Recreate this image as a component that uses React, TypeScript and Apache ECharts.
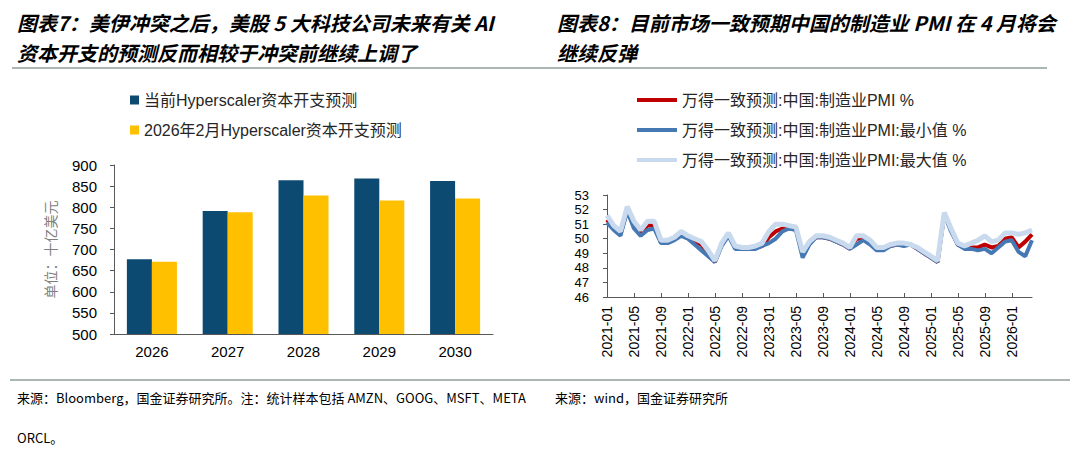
import React, { useEffect, useRef } from 'react';
import * as echarts from 'echarts';

// 图表7：Hyperscaler 资本开支预测（十亿美元）
const capexYears = ['2026', '2027', '2028', '2029', '2030'];
const capexCurrent = [677, 791, 864, 868, 862];
const capexFeb2026 = [671, 788, 828, 816, 821];

// 图表8：万得一致预测 中国制造业PMI，2021-01 至 2026-04
const pmiMonths: string[] = [];
for (let y = 2021; y <= 2026; y++) {
  for (let m = 1; m <= 12; m++) {
    if (y === 2026 && m > 4) break;
    pmiMonths.push(`${y}-${m < 10 ? '0' + m : m}`);
  }
}
const pmiMean = [
  51.3, 50.7, 50.3, 52.0, 50.9, 50.4, 50.9, 50.9, 49.8, 49.8, 50.0, 50.3,
  50.1, 49.8, 49.6, 48.9, 48.4, 49.6, 50.3, 49.4, 49.4, 49.4, 49.4, 49.5,
  50.1, 50.5, 50.7, 50.7, 50.7, 48.9, 49.7, 50.1, 50.1, 50.0, 49.8, 49.6,
  49.3, 50.0, 50.0, 49.7, 49.3, 49.3, 49.5, 49.6, 49.6, 49.6, 49.3, 49.0,
  48.7, 48.4, 51.7, 50.6, 49.6, 49.4, 49.4, 49.4, 49.6, 49.4, 49.5, 50.0,
  50.1, 49.4, 49.8, 50.3
];
const pmiMin = [
  51.1, 50.6, 50.2, 51.9, 50.7, 50.2, 50.6, 50.7, 49.7, 49.7, 49.9, 50.2,
  50.0, 49.6, 49.2, 48.8, 48.4, 49.5, 50.2, 49.3, 49.3, 49.3, 49.3, 49.5,
  49.7, 50.0, 50.5, 50.7, 50.6, 48.7, 49.6, 50.1, 50.1, 50.0, 49.8, 49.6,
  49.3, 49.6, 49.9, 49.6, 49.2, 49.2, 49.5, 49.6, 49.5, 49.6, 49.3, 49.0,
  48.7, 48.4, 51.7, 50.5, 49.6, 49.3, 49.3, 49.2, 49.3, 49.0, 49.4, 49.8,
  49.9, 49.1, 48.8, 49.9
];
const pmiMax = [
  51.6, 50.9, 50.5, 52.2, 51.2, 50.6, 51.2, 51.2, 49.9, 49.9, 50.1, 50.5,
  50.2, 50.0, 49.8, 49.2, 48.5, 49.7, 50.4, 49.5, 49.4, 49.4, 49.5, 49.7,
  50.5, 51.0, 51.0, 50.9, 50.8, 49.1, 49.8, 50.2, 50.2, 50.1, 49.9, 49.7,
  49.4, 50.2, 50.2, 49.9, 49.4, 49.4, 49.6, 49.7, 49.7, 49.6, 49.4, 49.1,
  48.8, 48.5, 51.8, 50.7, 49.7, 49.5, 49.7, 49.9, 50.2, 49.8, 49.9, 50.4,
  50.4, 50.3, 50.4, 50.6
];

const FONT = '"Liberation Sans", Arial, "Noto Sans CJK SC", sans-serif';
const CJK = '"Noto Sans CJK SC", "Liberation Sans", sans-serif';
const AXIS = '#595959';

const titleText = (text: string, x: number, y: number) => ({
  type: 'text',
  x,
  y,
  style: {
    text,
    fill: '#000',
    fontSize: 20,
    fontWeight: 'bold',
    fontStyle: 'italic',
    fontFamily: CJK,
    textVerticalAlign: 'middle',
    verticalAlign: 'middle'
  }
});

const noteText = (text: string, x: number, y: number) => ({
  type: 'text',
  x,
  y,
  style: {
    text,
    fill: '#000',
    fontSize: 13,
    fontFamily: CJK,
    textVerticalAlign: 'middle',
    verticalAlign: 'middle'
  }
});

export default function App() {
  const chartRef = useRef<HTMLDivElement>(null);

  useEffect(() => {
    document.body.style.margin = '0';
    if (!chartRef.current) return;
    const chart = echarts.init(chartRef.current, null, { renderer: 'svg' });

    const option: any = {
      animation: false,
      backgroundColor: '#fff',
      textStyle: { fontFamily: FONT },
      legend: [
        {
          orient: 'vertical',
          left: 130,
          top: 92,
          padding: 0,
          itemGap: 14,
          itemWidth: 9,
          itemHeight: 9,
          icon: 'rect',
          textStyle: { fontSize: 16, color: '#262626', fontFamily: FONT },
          data: ['当前Hyperscaler资本开支预测', '2026年2月Hyperscaler资本开支预测']
        },
        {
          orient: 'vertical',
          left: 637,
          top: 92,
          padding: 0,
          itemGap: 14,
          itemWidth: 40,
          itemHeight: 4,
          icon: 'rect',
          textStyle: { fontSize: 16, color: '#262626', fontFamily: FONT },
          data: ['万得一致预测:中国:制造业PMI %', '万得一致预测:中国:制造业PMI:最小值 %', '万得一致预测:中国:制造业PMI:最大值 %']
        }
      ],
      grid: [
        { left: 114, top: 165, width: 379, height: 169 },
        { left: 607, top: 195, width: 425, height: 102 }
      ],
      xAxis: [
        {
          type: 'category',
          gridIndex: 0,
          data: capexYears,
          axisLine: { lineStyle: { color: AXIS } },
          axisTick: { length: 5, lineStyle: { color: AXIS } },
          axisLabel: { fontSize: 15, color: '#000', margin: 10 }
        },
        {
          type: 'category',
          gridIndex: 1,
          data: pmiMonths,
          boundaryGap: false,
          axisLine: { lineStyle: { color: AXIS } },
          axisTick: { inside: true, interval: 3, length: 4, lineStyle: { color: AXIS } },
          axisLabel: { interval: 3, rotate: 90, fontSize: 14, color: '#000', margin: 9 }
        }
      ],
      yAxis: [
        {
          type: 'value',
          gridIndex: 0,
          min: 500,
          max: 900,
          interval: 50,
          name: '单位：十亿美元',
          nameLocation: 'middle',
          nameRotate: 90,
          nameGap: 57,
          nameTextStyle: { color: '#7f7f7f', fontSize: 14, fontFamily: CJK },
          axisLine: { show: true, lineStyle: { color: AXIS } },
          axisTick: { show: true, length: 4, lineStyle: { color: AXIS } },
          splitLine: { show: false },
          axisLabel: { fontSize: 15, color: '#000', margin: 17 }
        },
        {
          type: 'value',
          gridIndex: 1,
          min: 46,
          max: 53,
          interval: 1,
          axisLine: { show: true, lineStyle: { color: AXIS } },
          axisTick: { show: true, length: 4, lineStyle: { color: AXIS } },
          splitLine: { show: false },
          axisLabel: { fontSize: 13, color: '#000', margin: 18 }
        }
      ],
      series: [
        {
          name: '当前Hyperscaler资本开支预测',
          type: 'bar',
          xAxisIndex: 0,
          yAxisIndex: 0,
          data: capexCurrent,
          barGap: '0%',
          barCategoryGap: '34%',
          itemStyle: { color: '#0d4a72' }
        },
        {
          name: '2026年2月Hyperscaler资本开支预测',
          type: 'bar',
          xAxisIndex: 0,
          yAxisIndex: 0,
          data: capexFeb2026,
          itemStyle: { color: '#ffc000' }
        },
        {
          name: '万得一致预测:中国:制造业PMI %',
          type: 'line',
          xAxisIndex: 1,
          yAxisIndex: 1,
          data: pmiMean,
          symbol: 'none',
          color: '#c00000',
          lineStyle: { color: '#c00000', width: 4 }
        },
        {
          name: '万得一致预测:中国:制造业PMI:最小值 %',
          type: 'line',
          xAxisIndex: 1,
          yAxisIndex: 1,
          data: pmiMin,
          symbol: 'none',
          color: '#4679b4',
          lineStyle: { color: '#4679b4', width: 4 }
        },
        {
          name: '万得一致预测:中国:制造业PMI:最大值 %',
          type: 'line',
          xAxisIndex: 1,
          yAxisIndex: 1,
          data: pmiMax,
          symbol: 'none',
          color: '#c9daee',
          lineStyle: { color: '#c9daee', width: 5 }
        }
      ],
      graphic: [
        titleText('图表7：美伊冲突之后，美股 5 大科技公司未来有关 AI', 17, 22),
        titleText('资本开支的预测反而相较于冲突前继续上调了', 17, 52),
        titleText('图表8：目前市场一致预期中国的制造业 PMI 在 4 月将会', 557, 22),
        titleText('继续反弹', 557, 52),
        {
          type: 'line',
          shape: { x1: 12, y1: 68, x2: 1047, y2: 68 },
          style: { stroke: '#5b6f66', lineWidth: 1.2 }
        },
        {
          type: 'line',
          shape: { x1: 10, y1: 380, x2: 1070, y2: 380 },
          style: { stroke: '#5b6f66', lineWidth: 1.2 }
        },
        noteText('来源：Bloomberg，国金证券研究所。注：统计样本包括 AMZN、GOOG、MSFT、META', 17, 397),
        noteText('来源：wind，国金证券研究所', 555, 397),
        noteText('ORCL。', 17, 437)
      ]
    };

    chart.setOption(option);
    return () => chart.dispose();
  }, []);

  return <div ref={chartRef} style={{ width: 1080, height: 454 }} />;
}
